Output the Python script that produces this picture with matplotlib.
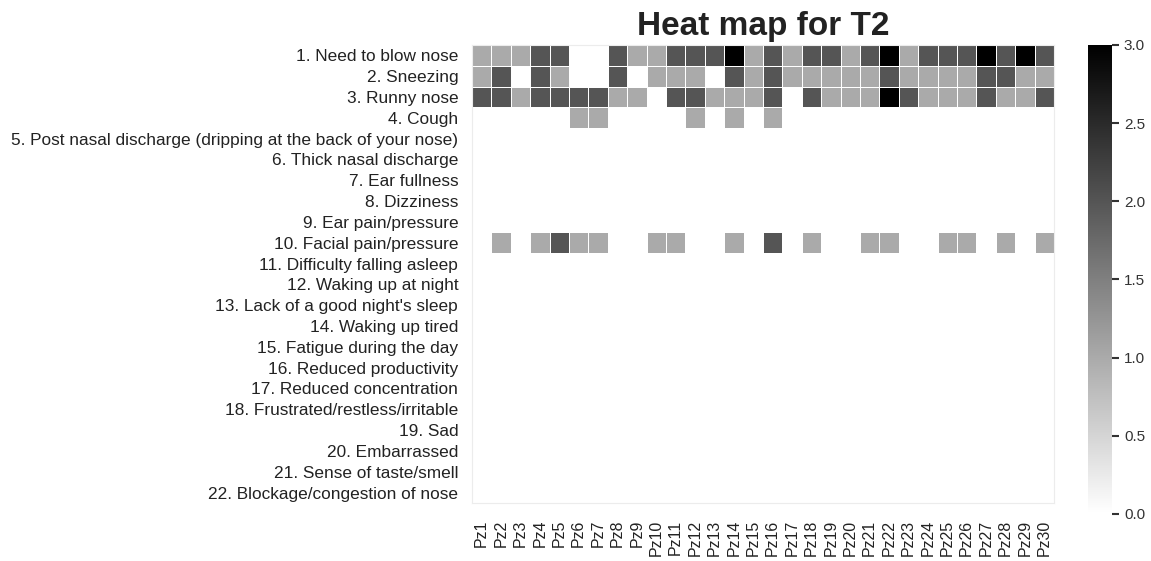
import numpy as np
import matplotlib.pyplot as plt

plt.rcParams['font.family'] = ['Liberation Sans', 'DejaVu Sans']

symptoms = [
    "1. Need to blow nose",
    "2. Sneezing",
    "3. Runny nose",
    "4. Cough",
    "5. Post nasal discharge (dripping at the back of your nose)",
    "6. Thick nasal discharge",
    "7. Ear fullness",
    "8. Dizziness",
    "9. Ear pain/pressure",
    "10. Facial pain/pressure",
    "11. Difficulty falling asleep",
    "12. Waking up at night",
    "13. Lack of a good night's sleep",
    "14. Waking up tired",
    "15. Fatigue during the day",
    "16. Reduced productivity",
    "17. Reduced concentration",
    "18. Frustrated/restless/irritable",
    "19. Sad",
    "20. Embarrassed",
    "21. Sense of taste/smell",
    "22. Blockage/congestion of nose",
]
patients = ["Pz%d" % i for i in range(1, 31)]

# scores at T2, one list per symptom that was reported (all others are 0)
blow_nose = [1, 1, 1, 2, 2, 0, 0, 2, 1, 1, 2, 2, 2, 3, 1, 2, 1, 2, 2, 1, 2, 3, 1, 2, 2, 2, 3, 2, 3, 2]
sneezing = [1, 2, 0, 2, 1, 0, 0, 2, 0, 1, 1, 1, 0, 2, 1, 2, 1, 1, 1, 1, 1, 2, 1, 1, 1, 1, 2, 2, 1, 1]
runny_nose = [2, 2, 1, 2, 2, 2, 2, 1, 1, 0, 2, 2, 1, 1, 1, 2, 0, 2, 1, 1, 1, 3, 2, 1, 1, 1, 2, 1, 1, 2]
cough = [0, 0, 0, 0, 0, 1, 1, 0, 0, 0, 0, 1, 0, 1, 0, 1, 0, 0, 0, 0, 0, 0, 0, 0, 0, 0, 0, 0, 0, 0]
facial_pain = [0, 1, 0, 1, 2, 1, 1, 0, 0, 1, 1, 0, 0, 1, 0, 2, 0, 1, 0, 0, 1, 1, 0, 0, 1, 1, 0, 1, 0, 1]

scores = np.zeros((len(symptoms), len(patients)))
scores[0] = blow_nose
scores[1] = sneezing
scores[2] = runny_nose
scores[3] = cough
scores[9] = facial_pain

fig = plt.figure(figsize=(11.51, 5.61), dpi=100)
ax = fig.add_axes([0.4101, 0.1034, 0.5056, 0.8164])
cax = fig.add_axes([0.9453, 0.0838, 0.0209, 0.836])

mesh = ax.pcolormesh(scores, cmap='gray_r', vmin=0, vmax=3,
                     edgecolors='white', linewidth=0.7)
ax.set_xlim(0, len(patients))
ax.set_ylim(len(symptoms), 0)
ax.set_xticks(np.arange(len(patients)) + 0.5)
ax.set_xticklabels(patients, rotation=90, fontsize=11.5, color='#222222')
ax.set_yticks(np.arange(len(symptoms)) + 0.5)
ax.set_yticklabels(symptoms, fontsize=12.4, color='#222222')
ax.tick_params(length=0, pad=10)
ax.tick_params(axis='x', pad=12)
for s in ax.spines.values():
    s.set_color('#ececec')
    s.set_linewidth(0.8)

ax.set_title("Heat map for T2", fontsize=24, fontweight='bold', pad=7, color='#222222')

cb = fig.colorbar(mesh, cax=cax)
cb.outline.set_visible(False)
cb.set_ticks([0, 0.5, 1, 1.5, 2, 2.5, 3])
cb.ax.tick_params(labelsize=11, length=5, width=1.5, labelcolor='#333333', color='#333333')

fig.savefig("out.png", dpi=100)
